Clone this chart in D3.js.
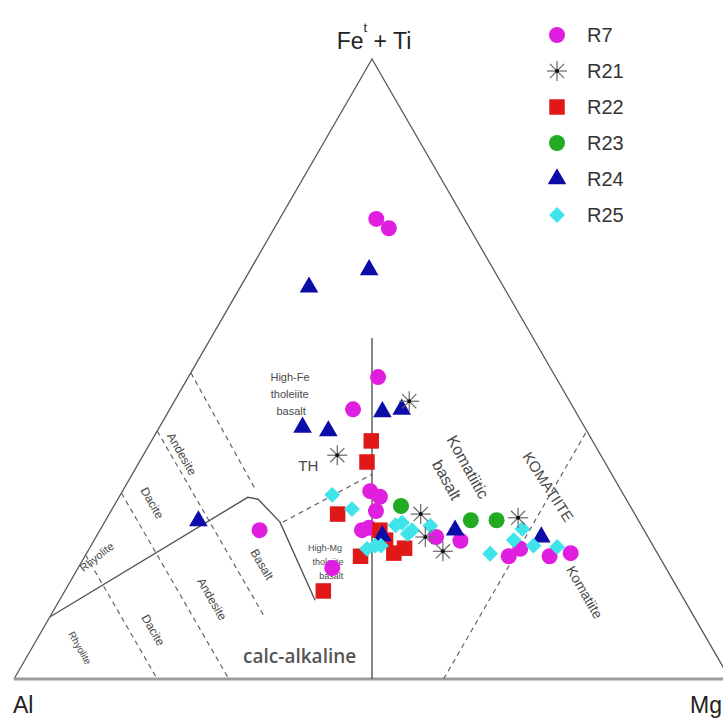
<!DOCTYPE html>
<html>
<head>
<meta charset="utf-8">
<script src="https://cdn.jsdelivr.net/npm/d3@7"></script>
<style>
  body { margin: 0; background: #fff; }
  svg { display: block; font-family: "Liberation Sans", Arial, sans-serif; }
</style>
</head>
<body>
<div id="chart"></div>
<script>
// Jensen cation plot, values are [Al, Fe+Ti, Mg] in %

let series = ["R7", "R21", "R22", "R23", "R24", "R25"];

let r7 = [[12.3,74.2,13.5],[11.3,72.7,16.0],[24.8,48.7,26.5],[30.9,43.5,25.6],[35.1,30.3,34.6],
  [34.2,29.4,36.4],[35.9,27.1,37.0],[39.4,24.0,36.6],[38.2,24.4,37.4],[29.6,22.9,47.5],
  [26.5,22.3,51.2],[21.0,19.8,59.2],[18.8,21.0,60.2],[15.3,19.8,64.9],[12.1,20.3,67.6],
  [53.7,24.0,22.3],[46.6,17.9,35.5]];
let r21 = [[22.4,44.8,32.8],[36.8,36.1,27.1],[29.9,26.6,43.5],[29.8,20.6,49.6],[16.6,26.0,57.4],[31.1,22.9,46.0]];
let r22 = [[30.9,38.4,30.7],[33.2,35.0,31.8],[41.5,26.6,31.9],[41.7,19.8,38.5],[49.7,14.2,36.1],
  [36.9,24.0,39.1],[36.8,20.3,42.9],[34.9,21.1,44.0],[36.9,22.4,40.7]];
let r23 = [[32.0,27.9,40.1],[23.4,25.6,51.0],[19.8,25.6,54.6]];
let r24 = [[27.2,63.2,9.6],[17.4,66.0,16.6],[39.4,40.6,20.0],[36.1,40.0,23.9],[27.0,43.1,29.9],
  [24.1,43.5,32.4],[61.5,25.5,13.0],[26.4,24.0,49.6],[14.9,22.9,62.2],[37.0,23.1,39.9]];
let r25 = [[40.7,29.7,29.6],[39.1,27.4,33.5],[40.2,21.0,38.8],[38.8,21.5,39.7],[38.0,21.5,40.5],
  [34.3,24.8,40.9],[33.2,25.2,41.6],[33.3,23.4,43.3],[32.4,24.0,43.6],[29.5,24.7,45.8],
  [23.4,20.2,56.4],[19.0,22.4,58.6],[16.9,24.2,58.9],[16.7,21.5,61.8],[13.5,21.3,65.2]];

// field boundaries
let caThLine = [[90,10,0],[52.7,29.3,18.0],[51.4,29.0,19.6],[50.2,25.3,24.5],[51.6,12.7,35.7]];
let alMgLine = [[50,0,50],[22.5,55,22.5]];
let dashedLines = [
  [[50.6,49.4,0],[51,30.5,18.5]],
  [[60,40,0],[60,10,30]],
  [[70,30,0],[70,0,30]],
  [[80,20,0],[80,0,20]],
  [[49.8,25.3,24.9],[33.5,33,33.5]],
  [[40,0,60],[0,40,60]]
];

// field names: text, [Al, Fe, Mg], rotation, size
let fieldLabels = [
  ["High-Fe", [37.1,48.7,14.2], 0, 11],
  ["tholeiite", [38.5,46.0,15.5], 0, 11],
  ["basalt", [39.7,43.2,17.1], 0, 11],
  ["TH", [41.7,34.4,23.9], 0, 15],
  ["High-Mg", [46.0,21.1,32.9], 0, 9],
  ["tholeiite", [46.7,18.9,34.4], 0, 9],
  ["basalt", [47.4,16.6,36.0], 0, 9],
  ["Basalt", [56.1,18.5,25.4], 60, 12],
  ["Andesite", [58.4,36.3,5.3], 60, 12],
  ["Dacite", [66.5,28.4,5.1], 60, 12],
  ["Rhyolite", [78.6,19.7,1.7], -38, 11],
  ["Andesite", [65.9,12.9,21.2], 60, 12],
  ["Dacite", [76.6,7.9,15.5], 60, 12],
  ["Rhyolite", [88.3,5.0,6.7], 60, 10],
  ["Komatiitic", [19.5,34.2,46.3], 61, 16],
  ["basalt", [23.5,32.1,44.4], 61, 16],
  ["KOMATIITE", [9.9,31.0,59.1], 57, 15],
  ["Komatiite", [13.3,14.0,72.7], 60, 14]
];

let width = 723, height = 719;
let colors = {R7: "#e01ee0", R21: "#444", R22: "#e01818", R23: "#22aa22", R24: "#0c0ca8", R25: "#3ee4ea"};

let sx = d3.scaleLinear().domain([0, 1]).range([14, 730]);
let sy = d3.scaleLinear().domain([0, 1]).range([679, 59]);

function proj(d) {
  let s = d[0] + d[1] + d[2];
  let f = d[1] / s, m = d[2] / s;
  return [sx(m + f / 2), sy(f)];
}

let svg = d3.select("#chart").append("svg")
  .attr("width", width)
  .attr("height", height);

let line = d3.line().x(d => proj(d)[0]).y(d => proj(d)[1]);

// triangle
svg.append("path")
  .attr("d", line([[100,0,0],[0,100,0],[0,0,100]]))
  .attr("fill", "none").attr("stroke", "#5a5a5a").attr("stroke-width", 1.3);
svg.append("path")
  .attr("d", line([[100,0,0],[0,0,100]]))
  .attr("stroke", "#9c9c9c").attr("stroke-width", 3);

dashedLines.forEach(l => {
  svg.append("path").attr("d", line(l))
    .attr("fill", "none").attr("stroke", "#666").attr("stroke-width", 1.2)
    .attr("stroke-dasharray", "5,4");
});

svg.append("path").attr("d", line(caThLine))
  .attr("fill", "none").attr("stroke", "#555").attr("stroke-width", 1.4);
svg.append("path").attr("d", line(alMgLine))
  .attr("fill", "none").attr("stroke", "#555").attr("stroke-width", 1.4);

// labels of fields
fieldLabels.forEach(l => {
  let p = proj(l[1]);
  svg.append("text")
    .attr("transform", `translate(${p[0]},${p[1]}) rotate(${l[2]})`)
    .attr("text-anchor", "middle").attr("dy", "0.35em")
    .attr("font-size", l[3]).attr("fill", "#4a4a4a")
    .text(l[0]);
});

let ca = proj([58.8, 2.6, 38.6]);
svg.append("text").attr("x", ca[0]).attr("y", ca[1])
  .attr("text-anchor", "middle")
  .attr("font-family", "'Open Sans', sans-serif").attr("font-weight", 600)
  .attr("font-size", 19).attr("fill", "#555")
  .text("calc-alkaline");

// apex labels
let apexPt = proj([0,100,0]);
let fe = svg.append("text").attr("x", apexPt[0] + 2).attr("y", apexPt[1] - 10)
  .attr("text-anchor", "middle").attr("font-size", 23).attr("fill", "#222");
fe.append("tspan").text("Fe");
fe.append("tspan").attr("font-size", 13).attr("dy", -17).text("t");
fe.append("tspan").attr("dy", 17).text(" + Ti");

let alPt = proj([100,0,0]);
svg.append("text").attr("x", alPt[0] - 1).attr("y", alPt[1] + 34)
  .attr("font-size", 23).attr("fill", "#222").text("Al");
let mgPt = proj([0,0,100]);
svg.append("text").attr("x", mgPt[0] - 40).attr("y", mgPt[1] + 34)
  .attr("font-size", 23).attr("fill", "#222").text("Mg");

// markers
function drawMarker(g, name) {
  if (name == "R7" || name == "R23") {
    g.append("circle").attr("r", 8).attr("fill", colors[name]);
  } else if (name == "R22") {
    g.append("path").attr("d", d3.symbol(d3.symbolSquare, 240)()).attr("fill", colors[name]);
  } else if (name == "R24") {
    g.append("path").attr("d", d3.symbol(d3.symbolTriangle, 150)()).attr("fill", colors[name]);
  } else if (name == "R25") {
    g.append("path").attr("d", d3.symbol(d3.symbolSquare, 125)())
      .attr("transform", "rotate(45)").attr("fill", colors[name]);
  } else {
    [0, 45, 90, 135].forEach(a => {
      g.append("line").attr("x1", -10).attr("x2", 10)
        .attr("transform", `rotate(${a})`)
        .attr("stroke", "#666").attr("stroke-width", 1.2);
    });
    g.append("circle").attr("r", 2).attr("fill", "#111");
  }
}

let dataBySeries = {R7: r7, R21: r21, R22: r22, R23: r23, R24: r24, R25: r25};
["R7", "R22", "R23", "R24", "R25", "R21"].forEach(name => {
  svg.append("g").selectAll("g")
    .data(dataBySeries[name])
    .enter()
    .append("g")
      .attr("transform", d => `translate(${proj(d)[0]},${proj(d)[1]})`)
      .each(function() { drawMarker(d3.select(this), name); });
});

// legend
let ly = d3.scaleLinear().domain([0, series.length - 1]).range([35, 215]);
series.forEach((name, i) => {
  let g = svg.append("g").attr("transform", `translate(557,${ly(i)})`);
  drawMarker(g, name);
  svg.append("text").attr("x", 587).attr("y", ly(i)).attr("dy", "0.36em")
    .attr("font-size", 20).attr("fill", "#333").text(name);
});
</script>
</body>
</html>
